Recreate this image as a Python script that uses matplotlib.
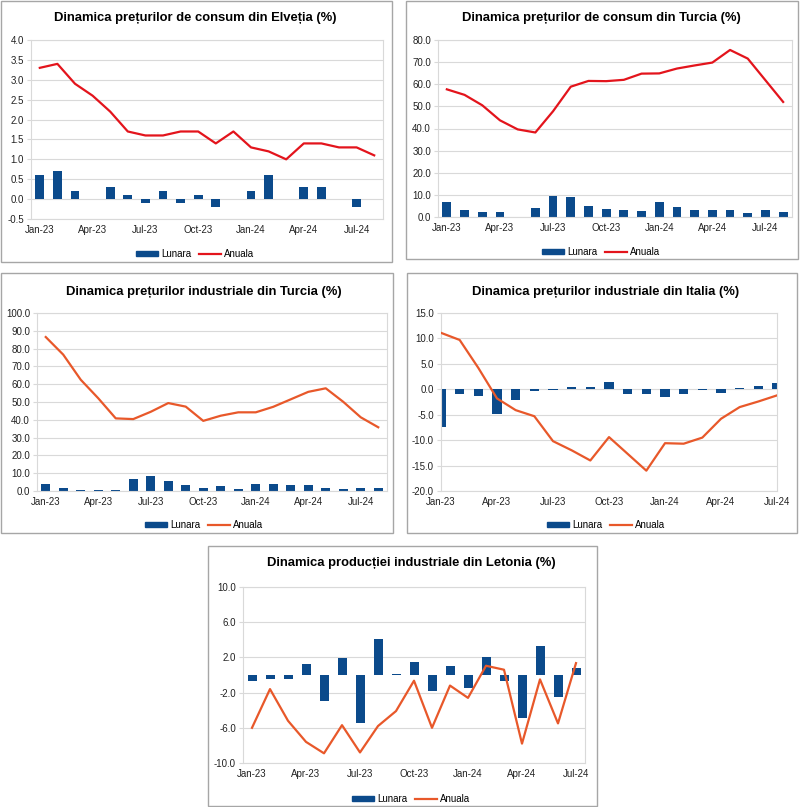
import matplotlib
matplotlib.use("Agg")
import matplotlib.pyplot as plt
from matplotlib.patches import Rectangle
from matplotlib.lines import Line2D

plt.rcParams['font.family'] = ['Liberation Sans', 'DejaVu Sans']

# luni: Jan-23 .. Aug-24
luni = ['Jan-23', 'Feb-23', 'Mar-23', 'Apr-23', 'May-23', 'Jun-23', 'Jul-23', 'Aug-23',
        'Sep-23', 'Oct-23', 'Nov-23', 'Dec-23', 'Jan-24', 'Feb-24', 'Mar-24', 'Apr-24',
        'May-24', 'Jun-24', 'Jul-24', 'Aug-24']

# Elvetia - preturi de consum
ch_lunara = [0.6, 0.7, 0.2, 0.0, 0.3, 0.1, -0.1, 0.2, -0.1, 0.1, -0.2, 0.0,
             0.2, 0.6, 0.0, 0.3, 0.3, 0.0, -0.2, 0.0]
ch_anuala = [3.3, 3.4, 2.9, 2.6, 2.2, 1.7, 1.6, 1.6, 1.7, 1.7, 1.4, 1.7,
             1.3, 1.2, 1.0, 1.4, 1.4, 1.3, 1.3, 1.1]

# Turcia - preturi de consum
tr_cpi_lunara = [6.65, 3.15, 2.29, 2.39, 0.04, 3.92, 9.49, 9.09, 4.75, 3.43, 3.28, 2.93,
                 6.70, 4.53, 3.16, 3.18, 3.37, 1.64, 3.23, 2.47]
tr_cpi_anuala = [57.7, 55.2, 50.5, 43.7, 39.6, 38.2, 47.8, 58.9, 61.5, 61.4, 62.0, 64.8,
                 64.9, 67.1, 68.5, 69.8, 75.5, 71.6, 61.8, 52.0]

# Turcia - preturi industriale
tr_ppi_lunara = [4.15, 1.56, 0.29, 0.81, 0.65, 6.50, 8.23, 5.89, 3.40, 1.94, 2.78, 1.00,
                 4.14, 3.74, 3.29, 3.48, 1.92, 1.38, 1.94, 1.68]
tr_ppi_anuala = [86.5, 76.6, 62.5, 52.1, 40.8, 40.4, 44.5, 49.4, 47.4, 39.4, 42.3, 44.2,
                 44.2, 47.3, 51.5, 55.7, 57.7, 50.1, 41.4, 35.8]

# Italia - preturi industriale (Jan-23 .. Jul-24)
it_lunara = [-7.4, -1.0, -1.4, -4.8, -2.2, -0.3, -0.1, 0.4, 0.5, 1.4, -1.0, -0.9,
             -1.6, -0.9, -0.1, -0.8, 0.2, 0.6, 1.3]
it_anuala = [11.1, 9.7, 4.2, -1.8, -4.1, -5.3, -10.2, -12.0, -14.0, -9.4, -12.7, -16.0,
             -10.6, -10.7, -9.5, -5.8, -3.5, -2.4, -1.2]

# Letonia - productie industriala (Jan-23 .. Jul-24)
lv_lunara = [-0.65, -0.4, -0.4, 1.25, -2.9, 1.9, -5.5, 4.1, 0.15, 1.5, -1.8, 1.0,
             -1.5, 2.1, -0.7, -4.9, 3.25, -2.5, 0.85]
lv_anuala = [-6.0, -1.6, -5.2, -7.6, -8.9, -5.7, -8.8, -5.8, -4.1, -0.65, -6.0, -1.2,
             -2.6, 1.05, 0.6, -7.8, -0.5, -5.5, 1.35]

BLUE = '#0B4A8B'
RED = '#E3141C'
ORANGE = '#E8582A'
GRID = '#D9D9D9'

W, H = 800, 807
fig = plt.figure(figsize=(W / 100, H / 100), dpi=100)


def box(x0, y0, x1, y1):
    fig.patches.append(Rectangle((x0 / W, 1 - y1 / H), (x1 - x0) / W, (y1 - y0) / H,
                                 transform=fig.transFigure, fill=False,
                                 edgecolor='#A6A6A6', linewidth=1))


def panel(rect, title, tcenter, lunara, anuala, lcolor, yticks, fmt, legend_y,
          padded=True):
    x0, y0, x1, y1 = rect
    ax = fig.add_axes([x0 / W, 1 - y1 / H, (x1 - x0) / W, (y1 - y0) / H])
    n = len(lunara)
    xs = list(range(n))
    ax.bar(xs, lunara, width=0.5, color=BLUE, zorder=2)
    ax.plot(xs, anuala, color=lcolor, linewidth=1.6, zorder=3)
    ax.set_ylim(yticks[0], yticks[-1])
    ax.set_yticks(yticks)
    ax.set_yticklabels([fmt % v for v in yticks])
    if padded:
        ax.set_xlim(-0.5, n - 0.5)
    else:
        ax.set_xlim(0, n - 1)
    ax.set_xticks(xs[::3])
    ax.set_xticklabels(luni[:n:3])
    ax.yaxis.grid(True, color=GRID, linewidth=0.8, zorder=0)
    ax.set_axisbelow(True)
    for s in ax.spines.values():
        s.set_color(GRID)
    ax.tick_params(axis='x', length=0, labelsize=7, colors='#222222', pad=4)
    ax.tick_params(axis='y', length=3, color=GRID, labelsize=7, colors='#222222', pad=2)
    fig.text(tcenter[0] / W, 1 - tcenter[1] / H, title, ha='center', va='center',
             fontsize=9.4, fontweight='bold')
    handles = [Rectangle((0, 0), 1, 1, color=BLUE),
               Line2D([0], [0], color=lcolor, linewidth=1.6)]
    fig.legend(handles, ['Lunara', 'Anuala'], loc='center', ncol=2, frameon=False,
               bbox_to_anchor=(tcenter[0] / W, 1 - legend_y / H),
               bbox_transform=fig.transFigure, fontsize=7, handlelength=2.3,
               handleheight=0.5, columnspacing=0.8, handletextpad=0.3)
    return ax


box(1, 1, 392, 262)
box(406, 1, 798, 259)
box(1, 273, 393, 533)
box(407, 273, 797, 533)
box(208, 546, 597, 806)

panel((31, 40, 383, 219), 'Dinamica prețurilor de consum din Elveția (%)', (195, 18),
      ch_lunara, ch_anuala, RED, [-0.5 + 0.5 * i for i in range(10)], '%.1f', 254)
panel((438, 40, 792, 217), 'Dinamica prețurilor de consum din Turcia (%)', (601, 18),
      tr_cpi_lunara, tr_cpi_anuala, RED, list(range(0, 81, 10)), '%.1f', 252)
panel((37, 313, 387, 491), 'Dinamica prețurilor industriale din Turcia (%)', (204, 292),
      tr_ppi_lunara, tr_ppi_anuala, ORANGE, list(range(0, 101, 10)), '%.1f', 525)
panel((441, 313, 777, 491), 'Dinamica prețurilor industriale din Italia (%)', (606, 292),
      it_lunara, it_anuala, ORANGE, list(range(-20, 16, 5)), '%.1f', 525, padded=False)
panel((243, 587, 585, 763), 'Dinamica producției industriale din Letonia (%)', (411, 563),
      lv_lunara, lv_anuala, ORANGE, list(range(-10, 11, 4)), '%.1f', 799)

fig.savefig('out.png', dpi=100, facecolor='white')
